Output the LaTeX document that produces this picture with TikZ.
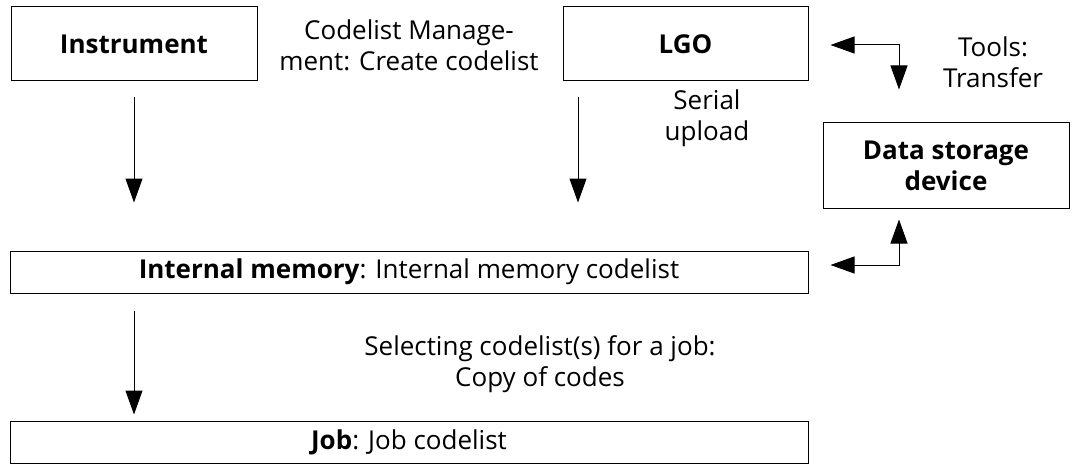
\documentclass[tikz,border=0pt]{standalone}
\usepackage{fontspec}
\setmainfont{Open Sans}
\usetikzlibrary{arrows.meta}

\begin{document}
\begin{tikzpicture}[x=1pt,y=-1pt,
  every node/.style={font=\fontsize{26}{31}\selectfont, align=center},
  box/.style={draw, line width=1pt, inner sep=0pt},
  flow/.style={line width=1pt, -{Triangle[length=24pt,width=17pt]}},
  twoway/.style={line width=1pt, {Triangle[length=24pt,width=17pt]}-{Triangle[length=24pt,width=17pt]}}]
\useasboundingbox (0,0) rectangle (1076,468);

\node[box, minimum width=246pt, minimum height=74pt] (instrument) at (134,44)
{\textbf{Instrument}};
\node[box, minimum width=245pt, minimum height=74pt] (lgo) at (685.5,44)
{\textbf{LGO}};
\node[box, minimum width=246pt, minimum height=85pt] (storage) at (946,165.5)
{\textbf{Data storage}\\\textbf{device}};
\node[box, minimum width=798pt, minimum height=42pt] (internal) at (409,272)
{\textbf{Internal memory}: Internal memory codelist};
\node[box, minimum width=798pt, minimum height=42pt] (job) at (409,442)
{\textbf{Job}: Job codelist};

\node (mgmt) at (409,45) {Codelist Manage-\\ment: Create codelist};
\node (serial) at (707,118) {Serial\\upload};
\node (tools) at (993,62) {Tools:\\Transfer};
\node (select) at (540,364) {Selecting codelist(s) for a job:\\Copy of codes};

\coordinate (lgodown) at (578,81);
\coordinate (tcorner) at (899,45);
\coordinate (bcorner) at (899,265);

\draw[flow, shorten <=16pt, shorten >=48pt] (instrument.south) -- (instrument.south |- internal.north);
\draw[flow, shorten <=16pt, shorten >=48pt] (lgodown) -- (lgodown |- internal.north);
\draw[flow, shorten <=17pt, shorten >=6pt] (instrument.south |- internal.south) -- (instrument.south |- job.north);
\draw[twoway, shorten <=22pt, shorten >=33pt] (lgo.east |- tcorner) -| (storage.north -| tcorner);
\draw[twoway, shorten <=11pt, shorten >=22pt] (storage.south -| bcorner) |- (internal.east |- bcorner);
\end{tikzpicture}
\end{document}
